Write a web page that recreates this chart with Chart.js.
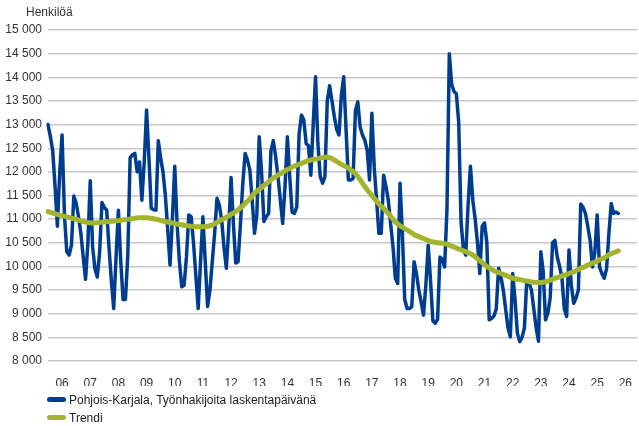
<!DOCTYPE html>
<html lang="fi">
<head>
    <meta charset="UTF-8">
    <title>Pohjois-Karjala, työnhakijat</title>
    <script src="https://cdn.jsdelivr.net/npm/chart.js"></script>
    <style>
        body {
            margin: 0;
            background: #ffffff;
            font-family: "Liberation Sans", Arial, sans-serif;
        }
        .wrap {
            position: relative;
            width: 639px;
            height: 426px;
        }
        .unit {
            position: absolute;
            left: 26px;
            top: 5px;
            font-size: 12px;
            color: #333;
        }
        .legend {
            position: absolute;
            left: 47px;
            top: 391px;
            font-size: 12px;
            color: #222;
        }
        .legend div {
            height: 18px;
            line-height: 18px;
            white-space: nowrap;
        }
        .legend span {
            display: inline-block;
            width: 19px;
            height: 5px;
            border-radius: 3px;
            margin-right: 3px;
            vertical-align: middle;
            position: relative;
            top: -1px;
        }
    </style>
</head>
<body>
    <div class="wrap">
        <canvas id="chart" width="639" height="426"></canvas>
        <div class="unit">Henkilöä</div>
        <div class="legend">
            <div><span style="background:#003d8f"></span>Pohjois-Karjala, Työnhakijoita laskentapäivänä</div>
            <div><span style="background:#a3b42e"></span>Trendi</div>
        </div>
    </div>

    <script>
        // vuosien tunnukset x-akselille (keskellä vuotta)
        const yearLabels = ['06','07','08','09','10','11','12','13','14','15','16',
                            '17','18','19','20','21','22','23','24','25','26'];

        // kuukaudet 1/2006 - 12/2026
        const months = [];
        for (let y = 2006; y <= 2026; y++) {
            for (let m = 1; m <= 12; m++) months.push(y + '-' + (m < 10 ? '0' + m : m));
        }

        // työnhakijat laskentapäivänä, kuukausittain 1/2006 alkaen
        const jobSeekers = [
            13000, 12750, 12450, 11700, 10850, 12000, 12780, 11100, 10310, 10240, 10450, 11490, // 2006
            11340, 11050, 10700, 10200,  9730, 10500, 11810, 10420,  9950,  9775, 10300, 11350, // 2007
            11250, 11190, 10400,  9700,  9110, 10200, 11190, 10100,  9300,  9300, 10240, 12300, // 2008
            12360, 12390, 12000, 12210, 11400, 12200, 13310, 12300, 11230, 11200, 11190, 12660, // 2009
            12290, 12000, 11500, 10800, 10030, 11000, 12120, 10900, 10100,  9570,  9600, 10200, // 2010
            11090, 11050, 10500,  9800,  9110, 10100, 11050, 10100,  9150,  9500, 10100, 10700, // 2011
            11440, 11300, 10980, 10400,  9960, 10800, 11880, 10900, 10070, 10100, 10900, 11750, // 2012
            12390, 12250, 12040, 11400, 10700, 11100, 12740, 12000, 10950, 11050, 11120, 12450, // 2013
            12660, 12320, 11900, 11400, 10910, 11700, 12740, 11900, 11150, 11120, 11260, 12800, // 2014
            13200, 13100, 12600, 12550, 11930, 13000, 14010, 12600, 11900, 11760, 11900, 13500, // 2015
            13820, 13500, 13170, 12900, 12780, 13620, 14010, 12900, 11830, 11830, 11860, 13300, // 2016
            13480, 12950, 12780, 12670, 12460, 11830, 13240, 12100, 11400, 10700, 10700, 11930, // 2017
            11700, 11400, 10900, 10420,  9750,  9640, 11760, 10700,  9300,  9110,  9110,  9150, // 2018
            10100,  9850,  9500,  9250,  8970,  9600, 10450,  9700,  8850,  8800,  8880, 10200, // 2019
            10150,  9990, 11200, 14500, 13850, 13700, 13650, 13050, 10950, 10350, 10240, 11300, // 2020
            12120, 11400, 11010, 10500,  9850, 10850, 10920, 10500,  8870,  8900,  8950,  9100, // 2021
             9960,  9780,  9500,  9100,  8700,  8510,  9850,  9300,  8590,  8410,  8500,  8700, // 2022
             9700,  9650,  9500,  9100,  8700,  8420, 10310,  9900,  8870,  9010,  9350, 10500, // 2023
            10550, 10200, 10000,  9750,  9100,  8940, 10350,  9600,  9220,  9330,  9500, 11320, // 2024
            11250, 11120, 10850, 10550,  9990, 10300, 11090,  9990,  9850,  9750,  9950, 10700, // 2025
            11330, 11120, 11150, 11120                                                          // 2026
        ];

        // trendi
        const trend = [
            11160, 11145, 11130, 11115, 11100, 11085, 11075, 11060, 11050, 11035, 11020, 11010, // 2006
            10995, 10980, 10965, 10950, 10940, 10930, 10920, 10920, 10920, 10925, 10930, 10935, // 2007
            10940, 10945, 10950, 10955, 10960, 10965, 10970, 10975, 10985, 10990, 10995, 11000, // 2008
            11010, 11020, 11025, 11030, 11030, 11030, 11030, 11025, 11015, 11010, 11000, 10990, // 2009
            10970, 10960, 10950, 10940, 10930, 10920, 10905, 10895, 10885, 10880, 10870, 10865, // 2010
            10855, 10850, 10845, 10840, 10840, 10840, 10840, 10845, 10850, 10860, 10880, 10900, // 2011
            10930, 10960, 10990, 11010, 11040, 11070, 11100, 11130, 11160, 11200, 11240, 11280, // 2012
            11330, 11380, 11430, 11490, 11550, 11590, 11630, 11670, 11710, 11750, 11790, 11830, // 2013
            11870, 11900, 11930, 11960, 11990, 12020, 12050, 12070, 12100, 12120, 12140, 12160, // 2014
            12180, 12200, 12220, 12240, 12250, 12260, 12270, 12280, 12290, 12300, 12310, 12310, // 2015
            12300, 12280, 12250, 12220, 12190, 12160, 12130, 12110, 12080, 12040, 12010, 11960, // 2016
            11900, 11830, 11760, 11690, 11620, 11560, 11500, 11440, 11380, 11320, 11270, 11230, // 2017
            11170, 11120, 11060, 11000, 10940, 10900, 10860, 10830, 10800, 10770, 10740, 10710, // 2018
            10670, 10650, 10630, 10610, 10590, 10570, 10550, 10530, 10520, 10510, 10500, 10495, // 2019
            10490, 10480, 10470, 10450, 10430, 10410, 10390, 10370, 10350, 10330, 10310, 10290, // 2020
            10270, 10240, 10210, 10160, 10120, 10080, 10040, 10000,  9970,  9940,  9910,  9890, // 2021
             9870,  9850,  9830,  9810,  9790,  9770,  9750,  9740,  9730,  9720,  9710,  9700, // 2022
             9690,  9680,  9670,  9665,  9660,  9660,  9660,  9665,  9675,  9690,  9710,  9730, // 2023
             9750,  9765,  9780,  9800,  9815,  9830,  9850,  9870,  9890,  9910,  9935,  9960, // 2024
             9980, 10000, 10030, 10050, 10070, 10090, 10110, 10140, 10160, 10185, 10210, 10250, // 2025
            10270, 10290, 10310, 10330                                                          // 2026
        ];

        const font = { family: '"Liberation Sans", Arial, sans-serif', size: 12 };

        function spaced(v) {
            return String(v).replace(/\B(?=(\d{3})+(?!\d))/g, ' ');
        }

        new Chart(document.getElementById('chart'), {
            type: 'line',
            data: {
                labels: months,
                datasets: [{
                    label: 'Pohjois-Karjala, Työnhakijoita laskentapäivänä',
                    data: jobSeekers,
                    borderColor: '#003d8f',
                    borderWidth: 3.5,
                    borderJoinStyle: 'round',
                    borderCapStyle: 'round',
                    pointRadius: 0,
                    tension: 0,
                    order: 2
                }, {
                    label: 'Trendi',
                    data: trend,
                    borderColor: '#a3b42e',
                    borderWidth: 5,
                    borderJoinStyle: 'round',
                    borderCapStyle: 'round',
                    pointRadius: 0,
                    tension: 0.3,
                    order: 1
                }]
            },
            options: {
                responsive: false,
                animation: false,
                layout: { padding: { top: 30, right: 0, bottom: 40, left: 0 } },
                plugins: {
                    legend: { display: false },
                    tooltip: { enabled: false }
                },
                scales: {
                    x: {
                        offset: false,
                        grid: { display: false },
                        border: { display: false },
                        ticks: {
                            autoSkip: false,
                            maxRotation: 0,
                            minRotation: 0,
                            padding: 7,
                            color: '#333',
                            font: font,
                            callback: (val, i) => i % 12 === 6 ? yearLabels[Math.floor(i / 12)] : null
                        },
                        afterFit: s => { s.height = 25; }
                    },
                    y: {
                        min: 8000,
                        max: 15000,
                        grid: { color: '#c8c8c8', lineWidth: 1.4, drawTicks: false },
                        border: { display: false },
                        ticks: {
                            stepSize: 500,
                            padding: 6,
                            color: '#333',
                            font: font,
                            callback: v => spaced(v)
                        },
                        afterFit: s => { s.width = 48; }
                    }
                }
            }
        });
    </script>
</body>
</html>
